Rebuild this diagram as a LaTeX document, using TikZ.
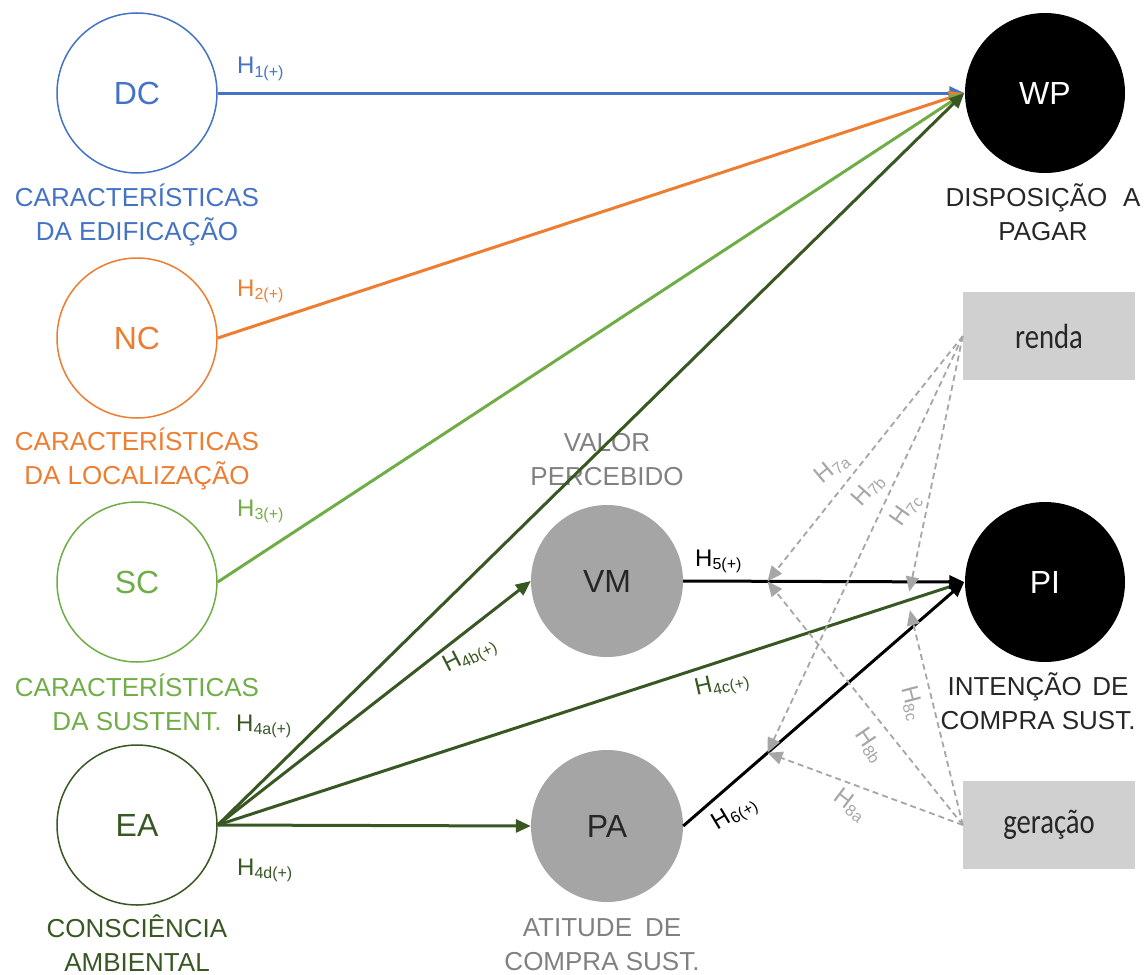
\documentclass[tikz,border=0pt]{standalone}
\usepackage{fontspec}
\setmainfont{Liberation Sans}
\newfontfamily\boxfont{Carlito}
\usetikzlibrary{arrows.meta,calc}
\definecolor{cDC}{HTML}{4472C4}
\definecolor{cNC}{HTML}{ED7D31}
\definecolor{cSC}{HTML}{70AD47}
\definecolor{cEA}{HTML}{385723}
\definecolor{cgr}{HTML}{A5A5A5}
\definecolor{cbox}{HTML}{D0D0D0}
\definecolor{cdash}{HTML}{A6A6A6}
\definecolor{ctxt}{HTML}{808080}
\definecolor{cdark}{HTML}{262626}
\newcommand{\Hy}[1]{H\raisebox{-3.5pt}{\fontsize{16}{16}\selectfont #1}}
\begin{document}
\begin{tikzpicture}[x=1pt,y=-1pt,
  circ/.style={circle,minimum size=160pt,inner sep=0pt,line width=1.5pt,font=\fontsize{32}{32}\selectfont},
  smallcirc/.style={circle,minimum size=152pt,inner sep=0pt,fill=cgr,font=\fontsize{32}{32}\selectfont,text=cdark},
  lbl/.style={align=center,font=\fontsize{26}{34}\selectfont,anchor=base,inner sep=0pt},
  hyp/.style={font=\fontsize{24}{24}\selectfont,inner sep=0pt},
  arr/.style={line width=3pt,-{Triangle[length=15pt,width=13pt]}},
  darr/.style={cdash,line width=1.8pt,dash pattern=on 6pt off 4pt,-{Triangle[length=15pt,width=13pt]}},
  gbox/.style={fill=cbox,minimum width=172pt,minimum height=88pt,inner sep=0pt,font=\boxfont\fontsize{35}{35}\selectfont,text=cdark}]
\useasboundingbox (0,0) rectangle (1145,974);

% circles
\node[circ,draw=cDC,text=cDC] (DC) at (137,93) {DC};
\node[circ,draw=cNC,text=cNC] (NC) at (137,338) {NC};
\node[circ,draw=cSC,text=cSC] (SC) at (137,582) {SC};
\node[circ,draw=cEA,text=cEA] (EA) at (137,825) {EA};
\node[circ,fill=black,text=white] (WP) at (1045,93) {WP};
\node[circ,fill=black,text=white] (PI) at (1045,582) {PI};
\node[smallcirc] (VM) at (607,581) {VM};
\node[smallcirc] (PA) at (607,826) {PA};
\node[gbox] (renda) at (1049,336) {\scalebox{0.82}[1]{renda}};
\node[gbox] (ger) at (1049,825) {\scalebox{0.82}[1]{geração}};

% labels
\node[lbl,text=cDC] (lDC) at (137,240) {CARACTERÍSTICAS\\DA EDIFICAÇÃO};
\node[lbl,text=cNC] (lNC) at (137,484) {CARACTERÍSTICAS\\DA LOCALIZAÇÃO};
\node[lbl,text=cSC] (lSC) at (137,730) {CARACTERÍSTICAS\\DA SUSTENT.};
\node[lbl,text=cEA] (lEA) at (137,971) {CONSCIÊNCIA\\AMBIENTAL};
\node[lbl,text=cdark] (lWP) at (1043,240) {DISPOSIÇÃO\hspace{0.6em}A\\PAGAR};
\node[lbl,text=cdark] (lPI) at (1038,729) {INTENÇÃO\hspace{0.4em}DE\\COMPRA SUST.};
\node[lbl,text=ctxt] (lVM) at (607,485) {VALOR\\PERCEBIDO};
\node[lbl,text=ctxt] (lPA) at (602,970) {ATITUDE\hspace{0.5em}DE\\COMPRA SUST.};

% main arrows
\draw[arr,cDC] (DC.east) -- (WP.west);
\draw[arr,cNC] (NC.east) -- (WP.west);
\draw[arr,cSC] (SC.east) -- (WP.west);
\draw[arr,cEA] (EA.east) -- (WP.west);
\draw[arr,cEA] (EA.east) -- (VM.west);
\draw[arr,cEA] (EA.east) -- (PI.west);
\draw[arr,cEA] (EA.east) -- (PA.west);
\draw[arr,black] (VM.east) -- (PI.west);
\draw[arr,black] (PA.east) -- (PI.west);

% moderator arrows
\coordinate (m5) at ($(VM.east)!0.3!(PI.west)$);
\coordinate (m6) at ($(PA.east)!0.3!(PI.west)$);
\coordinate (m4) at ($(EA.east)!0.924!(PI.west)$);
\draw[darr] (renda.west) -- (m5);
\draw[darr] (renda.west) -- (m6);
\draw[darr,shorten >=9pt] (renda.west) -- (m4);
\draw[darr] (ger.west) -- (m6);
\draw[darr] (ger.west) -- (m5);
\draw[darr,shorten >=10pt] (ger.west) -- (m4);

% hypothesis labels
\node[hyp,text=cDC,anchor=base west] (h1) at (237,74) {\Hy{1(+)}};
\node[hyp,text=cNC,anchor=base west] (h2) at (237,296) {\Hy{2(+)}};
\node[hyp,text=cSC,anchor=base west] (h3) at (237,516) {\Hy{3(+)}};
\node[hyp,text=cEA,anchor=base west] (h4a) at (236,731) {\Hy{4a(+)}};
\node[hyp,text=cEA,anchor=base west] (h4d) at (237,875) {\Hy{4d(+)}};
\node[hyp,text=cEA,rotate=27] (h4b) at (470,656) {\Hy{4b(+)}};
\node[hyp,text=cEA,rotate=13] (h4c) at (722,685) {\Hy{4c(+)}};
\node[hyp,text=black,anchor=base west] (h5) at (695,566) {\Hy{5(+)}};
\node[hyp,text=black,rotate=31] (h6) at (735,814) {\Hy{6(+)}};
\node[hyp,text=cdash,rotate=40] (h7a) at (832,468) {\Hy{7a}};
\node[hyp,text=cdash,rotate=48] (h7b) at (868,490) {\Hy{7b}};
\node[hyp,text=cdash,rotate=55] (h7c) at (906,510) {\Hy{7c}};
\node[hyp,text=cdash,rotate=-75] (h8c) at (912,703) {\Hy{8c}};
\node[hyp,text=cdash,rotate=-56] (h8b) at (870,745) {\Hy{8b}};
\node[hyp,text=cdash,rotate=-37] (h8a) at (850,805) {\Hy{8a}};
\end{tikzpicture}
\end{document}
